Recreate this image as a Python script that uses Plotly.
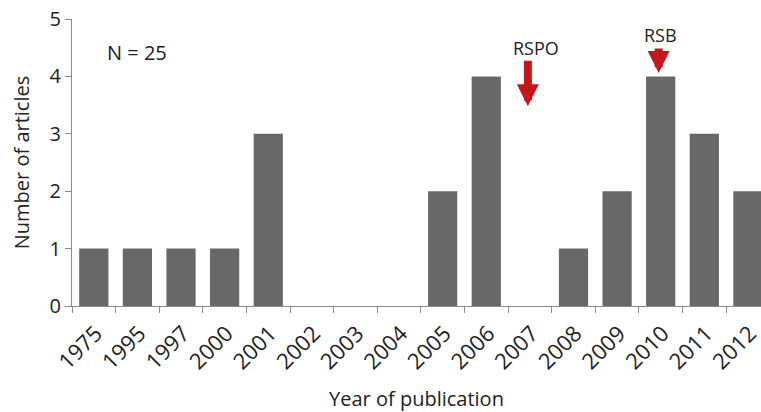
import plotly.graph_objects as go

years = ["1975", "1995", "1997", "2000", "2001", "2002", "2003", "2004",
         "2005", "2006", "2007", "2008", "2009", "2010", "2011", "2012"]
articles = [1, 1, 1, 1, 3, 0, 0, 0, 2, 4, 0, 1, 2, 4, 3, 2]

# policy markers: label, year, arrow tip, arrow length (px), label height, label nudge (px)
events = [
    ("RSPO", "2007", 3.48, 47, 4.50, 6),
    ("RSB", "2010", 4.06, 26, 4.72, 0),
]

FONT = "Open Sans"
AXIS_GREY = "#8c8c8c"
BAR_GREY = "#686868"
ARROW_RED = "#c4161c"

fig = go.Figure()
fig.add_trace(
    go.Bar(
        x=years,
        y=articles,
        marker=dict(color=BAR_GREY, line=dict(width=0)),
        showlegend=False,
    )
)

for label, yr, tip, length, txt_y, nudge in events:
    # category axis: annotations want the serial number, not the label
    idx = years.index(yr)
    fig.add_annotation(
        x=idx, y=tip, xref="x", yref="y",
        ax=0, ay=-length, xshift=-2,
        text="", showarrow=True,
        arrowhead=2, arrowsize=0.55, arrowwidth=8, arrowcolor=ARROW_RED,
    )
    fig.add_annotation(
        x=idx, y=txt_y, xref="x", yref="y", xshift=nudge,
        text=label, showarrow=False,
        font=dict(family=FONT, size=18, color="#222"),
    )

fig.add_annotation(
    x=0.048, y=4.41, xref="paper", yref="y",
    text="N = 25", showarrow=False, xanchor="left",
    font=dict(family=FONT, size=20, color="#222"),
)

fig.update_layout(
    width=761, height=412,
    margin=dict(l=72, r=0, t=19, b=106),
    paper_bgcolor="white", plot_bgcolor="white",
    bargap=0.33,
    font=dict(family=FONT, color="#222"),
    xaxis=dict(
        type="category",
        range=[-0.5, 15.3],
        automargin=False,
        showline=True, linecolor=AXIS_GREY, linewidth=1,
        ticks="outside", tickson="boundaries", ticklen=6, tickcolor=AXIS_GREY,
        tickangle=-45, tickfont=dict(family=FONT, size=22),
        ticklabelshift=2, ticklabelstandoff=5,
        title=dict(text="Year of publication", font=dict(family=FONT, size=20), standoff=20),
        showgrid=False,
    ),
    yaxis=dict(
        range=[0, 5], dtick=1,
        automargin=False,
        showline=True, linecolor=AXIS_GREY, linewidth=1,
        ticks="outside", ticklen=6, tickcolor=AXIS_GREY,
        tickfont=dict(family=FONT, size=20),
        title=dict(text="Number of articles", font=dict(family=FONT, size=20), standoff=14),
        showgrid=False, zeroline=False,
    ),
)

# page body has a default 8px margin; drop it so the figure fills the window
fig.write_html(
    "out.html",
    config={"displayModeBar": False},
    post_script="document.body.style.margin='0';",
)
